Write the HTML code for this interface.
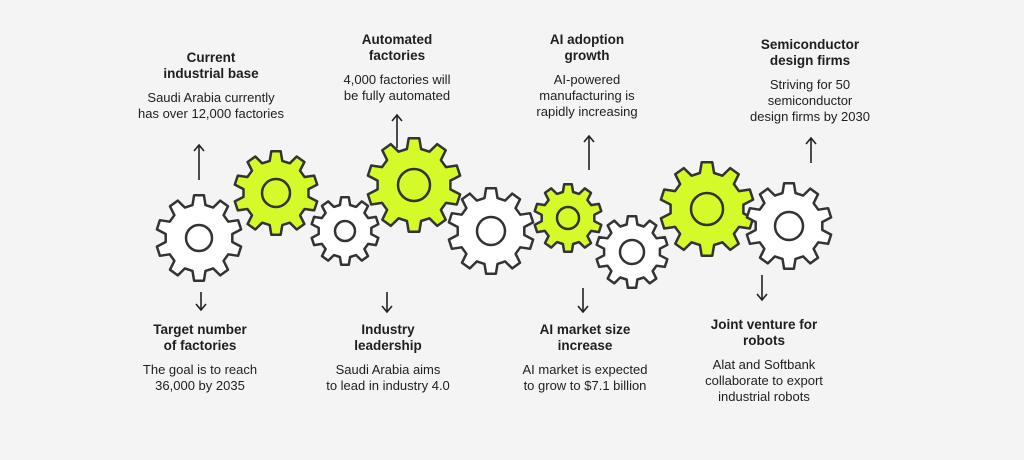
<!DOCTYPE html>
<html><head><meta charset="utf-8"><style>
body{margin:0;background:#f4f4f4;}
#c{position:relative;width:1024px;height:460px;background:#f4f4f4;font-family:"Liberation Sans",sans-serif;color:#1e1e1e;overflow:hidden}
.t{position:absolute;text-align:center;width:200px;font-size:13px;line-height:16px}
.t b{display:block;font-size:13.5px;margin-bottom:8px}
svg{position:absolute;left:0;top:0}
</style></head><body><div id="c">
<svg id="s" width="1024" height="460" viewBox="0 0 1024 460"></svg>
<div class="t" style="left:111px;top:50px"><b>Current<br>industrial base</b>Saudi Arabia currently<br>has over 12,000 factories</div>
<div class="t" style="left:297px;top:32px"><b>Automated<br>factories</b>4,000 factories will<br>be fully automated</div>
<div class="t" style="left:487px;top:32px"><b>AI adoption<br>growth</b>AI-powered<br>manufacturing is<br>rapidly increasing</div>
<div class="t" style="left:710px;top:37px"><b>Semiconductor<br>design firms</b>Striving for 50<br>semiconductor<br>design firms by 2030</div>
<div class="t" style="left:100px;top:322px"><b>Target number<br>of factories</b>The goal is to reach<br>36,000 by 2035</div>
<div class="t" style="left:288px;top:322px"><b>Industry<br>leadership</b>Saudi Arabia aims<br>to lead in industry 4.0</div>
<div class="t" style="left:485px;top:322px"><b>AI market size<br>increase</b>AI market is expected<br>to grow to $7.1 billion</div>
<div class="t" style="left:664px;top:317px"><b>Joint venture for<br>robots</b>Alat and Softbank<br>collaborate to export<br>industrial robots</div>
</div>
<script>
var g=[[199,238,43,13,0],[276,193,42,14,1],[345,231,34,10,0],[414,185,47,16,1],[491,231,43,14,0],[568,218,34,11,1],[632,252,36,12,0],[707,209,47,16,1],[789,226,43,14,0]];
var h='';
g.forEach(function(a){var cx=a[0],cy=a[1],R=a[2],hr=a[3],n=10,r=R*0.78,p=[];
for(var i=0;i<n;i++){var b=i*2*Math.PI/n-Math.PI/2,s=Math.PI/n;
var pts=[[r,b-s*0.62],[R,b-s*0.36],[R,b+s*0.36],[r,b+s*0.62]];
pts.forEach(function(q){p.push((cx+q[0]*Math.cos(q[1])).toFixed(1)+','+(cy+q[0]*Math.sin(q[1])).toFixed(1));});}
h+='<polygon points="'+p.join(' ')+'" fill="'+(a[4]?'#d4fa2a':'#fff')+'" stroke="#333" stroke-width="2.5" stroke-linejoin="round"/>';
h+='<circle cx="'+cx+'" cy="'+cy+'" r="'+hr+'" fill="'+(a[4]?'#d4fa2a':'#fff')+'" stroke="#333" stroke-width="2.5"/>';});
function ar(x,y1,y2){var d=y2>y1?1:-1;h+='<line x1="'+x+'" y1="'+y1+'" x2="'+x+'" y2="'+y2+'" stroke="#222" stroke-width="1.6"/><polyline points="'+(x-5)+','+(y2-6*d)+' '+x+','+y2+' '+(x+5)+','+(y2-6*d)+'" fill="none" stroke="#222" stroke-width="1.6"/>';}
ar(199,180,145);ar(397,148,115);ar(589,170,136);ar(811,163,138);
ar(201,292,310);ar(387,292,312);ar(583,288,312);ar(762,275,300);
document.getElementById('s').innerHTML=h;
</script>
</body></html>
